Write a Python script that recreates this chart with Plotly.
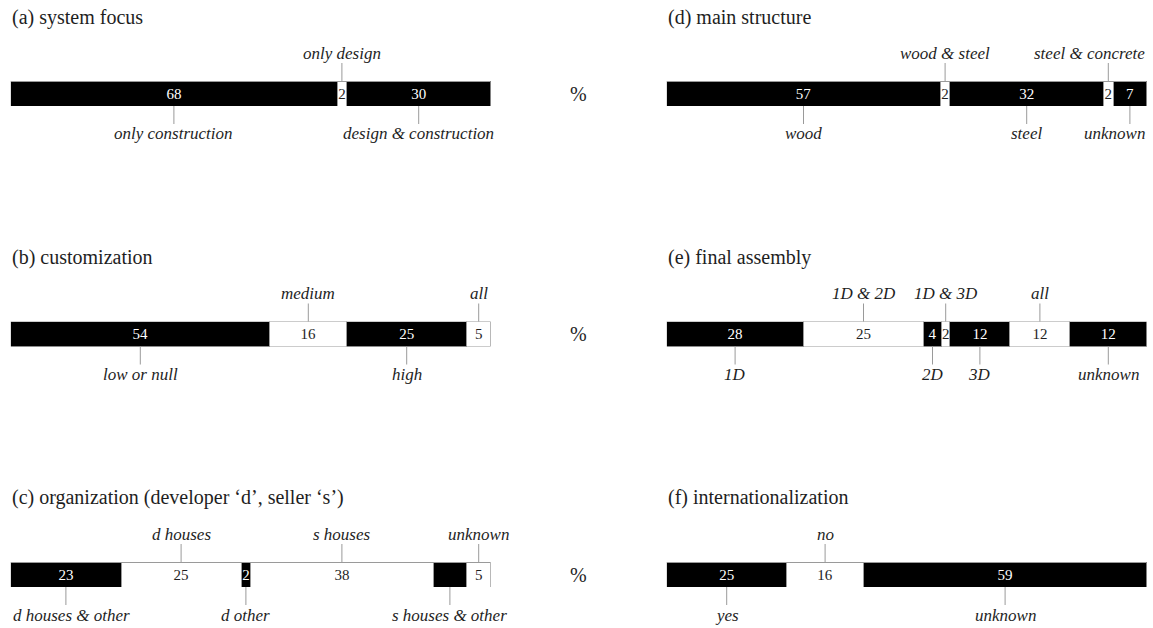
import plotly.graph_objects as go

# ---------------- data ----------------
titles = ["(a) system focus", "(b) customization", "(c) organization (developer ‘d’, seller ‘s’)",
          "(d) main structure", "(e) final assembly", "(f) internationalization"]

a_values = [68, 2, 30]
a_labels = ["68", "2", "30"]
a_colors = ["k", "w", "k"]
a_names = ["only construction", "only design", "design & construction"]
a_side = ["below", "above", "below"]

b_values = [54, 16, 25, 5]
b_labels = ["54", "16", "25", "5"]
b_colors = ["k", "w", "k", "w"]
b_names = ["low or null", "medium", "high", "all"]
b_side = ["below", "above", "below", "above"]

c_values = [23, 25, 2, 38, 7, 5]
c_labels = ["23", "25", "2", "38", "", "5"]
c_colors = ["k", "w", "k", "w", "k", "w"]
c_names = ["d houses & other", "d houses", "d other", "s houses", "s houses & other", "unknown"]
c_side = ["below", "above", "below", "above", "below", "above"]

d_values = [57, 2, 32, 2, 7]
d_labels = ["57", "2", "32", "2", "7"]
d_colors = ["k", "w", "k", "w", "k"]
d_names = ["wood", "wood & steel", "steel", "steel & concrete", "unknown"]
d_side = ["below", "above", "below", "above", "below"]

e_values = [28.5, 25, 3.75, 1.75, 12.5, 12.5, 16]
e_labels = ["28", "25", "4", "2", "12", "12", "12"]
e_colors = ["k", "w", "k", "w", "k", "w", "k"]
e_names = ["1D", "1D & 2D", "2D", "1D & 3D", "3D", "all", "unknown"]
e_side = ["below", "above", "below", "above", "below", "above", "below"]

f_values = [25, 16, 59]
f_labels = ["25", "16", "59"]
f_colors = ["k", "w", "k"]
f_names = ["yes", "no", "unknown"]
f_side = ["below", "above", "below"]

panels = [
    (a_values, a_labels, a_colors, a_names, a_side),
    (b_values, b_labels, b_colors, b_names, b_side),
    (c_values, c_labels, c_colors, c_names, c_side),
    (d_values, d_labels, d_colors, d_names, d_side),
    (e_values, e_labels, e_colors, e_names, e_side),
    (f_values, f_labels, f_colors, f_names, f_side),
]

# label alignment overrides: (panel index, segment index) -> anchor at bar edge
edge_left = {(2, 0)}
edge_right = {(3, 3), (3, 4)}

# ---------------- layout geometry ----------------
W, H = 1153, 628
col_x = [(10.7, 490.7), (666.7, 1146.7)]
row_top = [81, 321.5, 562]
bar_h = 25
title_y = [17, 257, 497]

SERIF = "Liberation Serif"
GRAY = "#9a9a9a"
TXT = "#1e1e1e"


def px(x):
    return x / W


def py(y):
    return (H - y) / H


fig = go.Figure()
layout_axes = {}
shapes = []
annotations = []

for p, (vals, labs, cols, names, sides) in enumerate(panels):
    col = p // 3
    row = p % 3
    n = p + 1
    xa = "x" if n == 1 else f"x{n}"
    ya = "y" if n == 1 else f"y{n}"
    x0p, x1p = col_x[col]
    top = row_top[row]
    dom_x = [px(x0p), px(x1p)]
    dom_y = [py(top + bar_h), py(top)]
    layout_axes["xaxis" if n == 1 else f"xaxis{n}"] = dict(
        domain=dom_x, range=[0, 100], visible=False, fixedrange=True, anchor=ya)
    layout_axes["yaxis" if n == 1 else f"yaxis{n}"] = dict(
        domain=dom_y, range=[-0.5, 0.5], visible=False, fixedrange=True, anchor=xa)

    start = 0.0
    for i, v in enumerate(vals):
        fill = "black" if cols[i] == "k" else "white"
        tcol = "white" if cols[i] == "k" else TXT
        fig.add_trace(go.Bar(
            x=[v], y=[0], orientation="h", width=1,
            xaxis=xa, yaxis=ya,
            marker=dict(color=fill, line=dict(color=GRAY, width=1)),
            text=[labs[i]], textposition="inside", insidetextanchor="middle",
            constraintext="none",
            textfont=dict(family=SERIF, size=15, color=tcol),
            hoverinfo="skip", showlegend=False,
        ))
        mid = start + v / 2
        start += v
        if sides[i] == "above":
            ly0, ly1, ty = 1.0, 1.72, 2.12
        else:
            ly0, ly1, ty = 0.0, -0.72, -1.12
        shapes.append(dict(type="line", xref=xa, yref=f"{ya} domain",
                           x0=mid, x1=mid, y0=ly0, y1=ly1,
                           line=dict(color=GRAY, width=1)))
        tx, anchor = mid, "center"
        if (p, i) in edge_left:
            tx, anchor = 0, "left"
        elif (p, i) in edge_right:
            tx, anchor = 100, "right"
        annotations.append(dict(
            text=names[i].replace("&", "&amp;"), xref=xa, yref=f"{ya} domain",
            x=tx, y=ty, xanchor=anchor, yanchor="middle", showarrow=False,
            font=dict(family=SERIF, size=17, color=TXT, style="italic")))

    annotations.append(dict(
        text=titles[p], xref="paper", yref="paper",
        x=px(x0p - 1), y=py(title_y[row]), xanchor="left", yanchor="middle",
        showarrow=False, font=dict(family=SERIF, size=20, color=TXT)))
    if col == 0:
        annotations.append(dict(
            text="%", xref="paper", yref="paper",
            x=px(578), y=py(top + bar_h / 2), xanchor="center", yanchor="middle",
            showarrow=False, font=dict(family=SERIF, size=20, color=TXT)))

fig.update_layout(
    width=W, height=H, margin=dict(l=0, r=0, t=0, b=0),
    paper_bgcolor="white", plot_bgcolor="white",
    barmode="stack", bargap=0, hovermode=False,
    uniformtext=dict(minsize=15, mode="show"),
    shapes=shapes, annotations=annotations,
    **layout_axes,
)

fig.write_html("out.html",
               config={"displayModeBar": False, "staticPlot": True},
               post_script="document.body.style.margin='0';document.body.style.overflow='hidden';")
